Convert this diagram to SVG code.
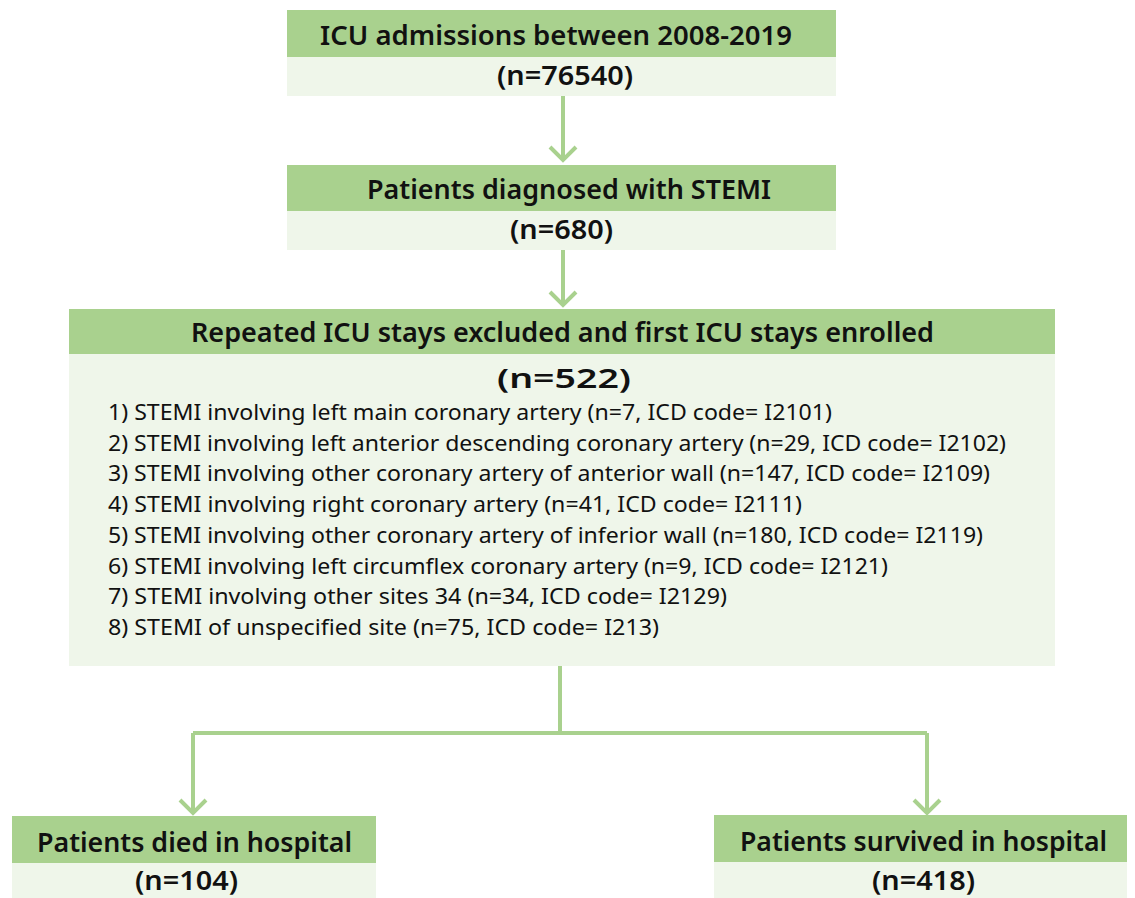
<svg xmlns="http://www.w3.org/2000/svg" width="1135" height="898" viewBox="0 0 1135 898">
<style>
.hd{fill:#a9d18e}
.bd{fill:#eff6ea}
.t{font-family:"Noto Sans","Open Sans","Liberation Sans",sans-serif;fill:#111}
.b{font-weight:600;font-size:27px}
.n{font-weight:600;font-size:27px}
.l{font-size:21px}
.c{fill:none;stroke:#a9d18e;stroke-width:4}
</style>
<rect width="1135" height="898" fill="#fff"/>
<g id="connectors">
<path class="c" d="M563 96V160M550 147L563 160L576 147"/>
<path class="c" d="M563 250V305M550 292L563 305L576 292"/>
<path class="c" d="M560 666V733M193 733H927M193 733V813M927 733V813"/>
<path class="c" d="M180 800L193 813L206 800M914 800L927 813L940 800"/>
</g>
<g id="node1">
<rect class="hd" x="287" y="10" width="549" height="47"/>
<rect class="bd" x="287" y="57" width="549" height="39"/>
<text class="t b" x="556" y="45" text-anchor="middle" textLength="472" lengthAdjust="spacingAndGlyphs">ICU admissions between 2008-2019</text>
<text class="t n" x="565" y="85" text-anchor="middle" textLength="136" lengthAdjust="spacingAndGlyphs">(n=76540)</text>
</g>
<g id="node2">
<rect class="hd" x="287" y="165" width="549" height="46"/>
<rect class="bd" x="287" y="211" width="549" height="39"/>
<text class="t b" x="569" y="199" text-anchor="middle" textLength="404" lengthAdjust="spacingAndGlyphs">Patients diagnosed with STEMI</text>
<text class="t n" x="561.5" y="239" text-anchor="middle" textLength="103" lengthAdjust="spacingAndGlyphs">(n=680)</text>
</g>
<g id="node3">
<rect class="hd" x="69" y="309" width="986" height="45"/>
<rect class="bd" x="69" y="354" width="986" height="312"/>
<text class="t b" x="562.5" y="342" text-anchor="middle" textLength="743" lengthAdjust="spacingAndGlyphs">Repeated ICU stays excluded and first ICU stays enrolled</text>
<text class="t n" x="564" y="388" text-anchor="middle" textLength="134" lengthAdjust="spacingAndGlyphs">(n=522)</text>
<text class="t l" x="108" y="420" textLength="724" lengthAdjust="spacingAndGlyphs">1) STEMI involving left main coronary artery (n=7, ICD code= I2101)</text>
<text class="t l" x="108" y="450.7" textLength="898" lengthAdjust="spacingAndGlyphs">2) STEMI involving left anterior descending coronary artery (n=29, ICD code= I2102)</text>
<text class="t l" x="108" y="481.4" textLength="882" lengthAdjust="spacingAndGlyphs">3) STEMI involving other coronary artery of anterior wall (n=147, ICD code= I2109)</text>
<text class="t l" x="108" y="512.1" textLength="694" lengthAdjust="spacingAndGlyphs">4) STEMI involving right coronary artery (n=41, ICD code= I2111)</text>
<text class="t l" x="108" y="542.8" textLength="875" lengthAdjust="spacingAndGlyphs">5) STEMI involving other coronary artery of inferior wall (n=180, ICD code= I2119)</text>
<text class="t l" x="108" y="573.5" textLength="780" lengthAdjust="spacingAndGlyphs">6) STEMI involving left circumflex coronary artery (n=9, ICD code= I2121)</text>
<text class="t l" x="108" y="604.2" textLength="619" lengthAdjust="spacingAndGlyphs">7) STEMI involving other sites 34 (n=34, ICD code= I2129)</text>
<text class="t l" x="108" y="634.9" textLength="551" lengthAdjust="spacingAndGlyphs">8) STEMI of unspecified site (n=75, ICD code= I213)</text>
</g>
<g id="node4">
<rect class="hd" x="12" y="816" width="364" height="47"/>
<rect class="bd" x="12" y="863" width="364" height="35"/>
<text class="t b" x="194.5" y="852" text-anchor="middle" textLength="315" lengthAdjust="spacingAndGlyphs">Patients died in hospital</text>
<text class="t n" x="186.5" y="890" text-anchor="middle" textLength="103" lengthAdjust="spacingAndGlyphs">(n=104)</text>
</g>
<g id="node5">
<rect class="hd" x="714" y="815" width="413" height="47"/>
<rect class="bd" x="714" y="862" width="413" height="36"/>
<text class="t b" x="923.5" y="851" text-anchor="middle" textLength="367" lengthAdjust="spacingAndGlyphs">Patients survived in hospital</text>
<text class="t n" x="923.5" y="890" text-anchor="middle" textLength="103" lengthAdjust="spacingAndGlyphs">(n=418)</text>
</g>
</svg>
